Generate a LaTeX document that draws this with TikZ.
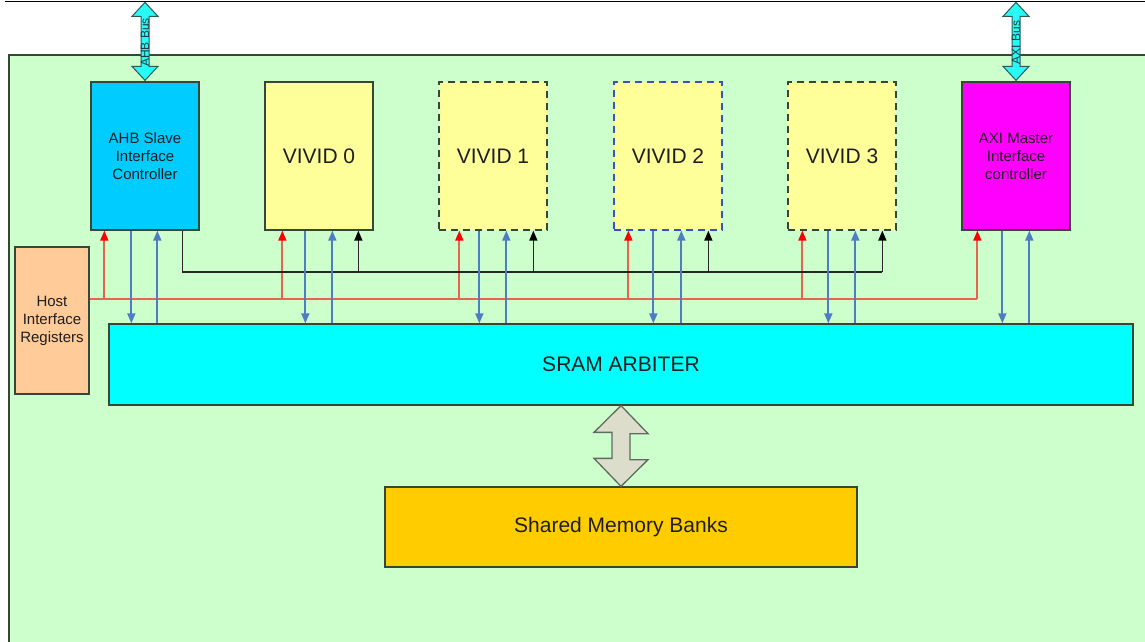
\documentclass[tikz,border=0pt]{standalone}
\usepackage{fontspec}
\setmainfont{Liberation Sans}
\usetikzlibrary{arrows.meta,calc}

\definecolor{bggreen}{RGB}{204,255,204}
\definecolor{frame}{RGB}{55,70,55}
\definecolor{ahbblue}{RGB}{0,204,255}
\definecolor{vividyel}{RGB}{255,255,153}
\definecolor{aximag}{RGB}{255,0,255}
\definecolor{hostpeach}{RGB}{255,204,153}
\definecolor{sramcyan}{RGB}{0,255,255}
\definecolor{shmgold}{RGB}{255,204,0}
\definecolor{memarrow}{RGB}{221,221,204}
\definecolor{buscyan}{RGB}{40,250,245}
\definecolor{busedge}{RGB}{40,90,90}
\definecolor{bluel}{RGB}{79,125,195}
\definecolor{redl}{RGB}{230,100,80}
\definecolor{dashblue}{RGB}{60,80,200}
\definecolor{txt}{RGB}{30,30,30}

\begin{document}
\begin{tikzpicture}[x=1pt,y=-1pt,
  box/.style={draw=frame, line width=1.3pt, inner sep=0pt, align=center, text=txt,
    minimum width=108pt, minimum height=148pt},
  big/.style={font=\fontsize{21}{25}\selectfont},
  small/.style={font=\fontsize{15}{18}\selectfont},
  dashbox/.style={dash pattern=on 7pt off 5pt},
  redline/.style={draw=redl, line width=1.8pt},
  redarrow/.style={redline, -{Triangle[length=10pt,width=8pt,color=red]}},
  bluearrow/.style={draw=bluel, line width=1.8pt, -{Triangle[length=10pt,width=8pt]}},
  blackline/.style={draw=black!85, line width=1.6pt},
  blackarrow/.style={blackline, -{Triangle[length=10pt,width=8pt,color=black]}},
  busshape/.style={fill=buscyan, draw=busedge, line width=1pt, line join=miter},
  memshape/.style={fill=memarrow, draw=frame!80, line width=1.3pt, line join=miter},
  buslabel/.style={rotate=90, font=\fontsize{12}{14}\selectfont, text=busedge!70!black}
]
\useasboundingbox (0,0) rectangle (1145,642);
\clip (0,0) rectangle (1145,642);

% page rule and chip background
\draw[line width=1.2pt] (5,1.5) -- (1150,1.5);
\fill[bggreen] (9,55) rectangle (1160,660);
\draw[frame, line width=1.6pt] (9,660) -- (9,55) -- (1160,55);

% top row of blocks
\node[box, small, fill=ahbblue] (ahb) at (145,156) {AHB Slave\\Interface\\Controller};
\node[box, big, fill=vividyel] (v0) at (319,156) {VIVID 0};
\node[box, big, fill=vividyel, dashbox] (v1) at (493,156) {VIVID 1};
\node[box, big, fill=vividyel, dashbox, draw=dashblue] (v2) at (668,156) {VIVID 2};
\node[box, big, fill=vividyel, dashbox] (v3) at (842,156) {VIVID 3};
\node[box, small, fill=aximag] (axi) at (1016,156) {AXI Master\\Interface\\controller};

% host registers, arbiter and memory
\node[box, small, fill=hostpeach, minimum width=74pt, minimum height=147pt] (host) at (52,320.5) {Host\\Interface\\Registers};
\node[box, big, fill=sramcyan, minimum width=1024pt, minimum height=81pt] (sram) at (621,364.5) {SRAM ARBITER};
\node[box, big, fill=shmgold, minimum width=472pt, minimum height=80pt] (shm) at (621,527) {Shared Memory Banks};

% external bus arrows
\foreach \b/\t in {ahb/AHB Bus, axi/AXI Bus} {
  \path (\b.north) ++(0,-79) coordinate (\b-bustip);
  \draw[busshape] (\b-bustip) -- ++(13,14) -- ++(-9,0) -- ++(0,50) -- ++(9,0)
    -- ++(-13,14) -- ++(-13,-14) -- ++(9,0) -- ++(0,-50) -- ++(-9,0) -- cycle;
  \node[buslabel] (\b-buslbl) at ($(\b.north)+(0,-39)$) {\t};
}

% arbiter <-> memory
\draw[memshape] (sram.south) -- ++(27,28) -- ++(-18,0) -- ++(0,26) -- ++(18,0)
  -- (shm.north) -- ++(-27,-28) -- ++(18,0) -- ++(0,-26) -- ++(-18,0) -- cycle;

% bus rails
\coordinate (redrail) at (0,299);
\coordinate (blackrail) at (0,272);

% host register control lines (red)
\coordinate (axired) at ($(axi.south west)+(16,0)$);
\draw[redline] (host.east |- redrail) -- (axired |- redrail);
\foreach \b/\r in {ahb/14, v0/18, v1/21, v2/15, v3/15, axi/16} {
  \coordinate (\b-red) at ($(\b.south west)+(\r,0)$);
  \draw[redarrow] (\b-red |- redrail) -- (\b-red);
}

% AHB slave to VIVID cores (black)
\coordinate (ahb-blk) at ($(ahb.south west)+(92,0)$);
\foreach \b/\k in {v0/94, v1/95, v2/95, v3/95}
  \coordinate (\b-blk) at ($(\b.south west)+(\k,0)$);
\draw[blackline] (ahb-blk) |- (v3-blk |- blackrail);
\foreach \b in {v0, v1, v2, v3}
  \draw[blackarrow] (\b-blk |- blackrail) -- (\b-blk);

% data paths to and from the arbiter (blue)
\foreach \b/\d/\u in {ahb/41/67, v0/41/68, v1/41/68, v2/40/68, v3/41/68, axi/41/68} {
  \coordinate (\b-dn) at ($(\b.south west)+(\d,0)$);
  \coordinate (\b-up) at ($(\b.south west)+(\u,0)$);
  \draw[bluearrow] (\b-dn) -- (\b-dn |- sram.north);
  \draw[bluearrow] (\b-up |- sram.north) -- (\b-up);
}
\end{tikzpicture}
\end{document}
